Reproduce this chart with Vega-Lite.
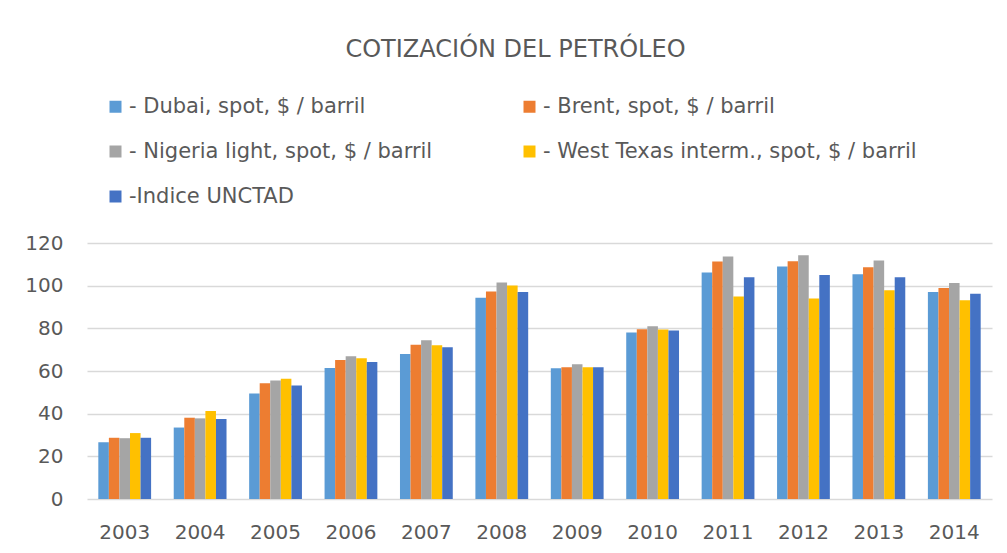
{
  "$schema": "https://vega.github.io/schema/vega-lite/v6.json",
  "width": 905,
  "height": 256,
  "autosize": {"type": "none"},
  "padding": {"left": 87, "top": 243, "right": 15, "bottom": 55},
  "background": "white",
  "config": {
    "view": {"stroke": null},
    "font": "DejaVu Sans"
  },
  "title": {
    "text": "COTIZACIÓN DEL PETRÓLEO",
    "anchor": "middle",
    "frame": "group",
    "dx": -24,
    "offset": 15,
    "baseline": "alphabetic",
    "fontSize": 24,
    "font": "DejaVu Sans",
    "fontWeight": "normal",
    "color": "#595959"
  },
  "data": {
    "values": [
      {"year": "2003", "serie": "- Dubai, spot, $ / barril", "value": 26.6},
      {"year": "2003", "serie": "- Brent, spot, $ / barril", "value": 28.7},
      {"year": "2003", "serie": "- Nigeria light, spot, $ / barril", "value": 28.5},
      {"year": "2003", "serie": "- West Texas interm., spot, $ / barril", "value": 30.9},
      {"year": "2003", "serie": "\u00a0-Indice UNCTAD", "value": 28.7},
      {"year": "2004", "serie": "- Dubai, spot, $ / barril", "value": 33.5},
      {"year": "2004", "serie": "- Brent, spot, $ / barril", "value": 38.1},
      {"year": "2004", "serie": "- Nigeria light, spot, $ / barril", "value": 37.8},
      {"year": "2004", "serie": "- West Texas interm., spot, $ / barril", "value": 41.3},
      {"year": "2004", "serie": "\u00a0-Indice UNCTAD", "value": 37.5},
      {"year": "2005", "serie": "- Dubai, spot, $ / barril", "value": 49.4},
      {"year": "2005", "serie": "- Brent, spot, $ / barril", "value": 54.3},
      {"year": "2005", "serie": "- Nigeria light, spot, $ / barril", "value": 55.5},
      {"year": "2005", "serie": "- West Texas interm., spot, $ / barril", "value": 56.4},
      {"year": "2005", "serie": "\u00a0-Indice UNCTAD", "value": 53.2},
      {"year": "2006", "serie": "- Dubai, spot, $ / barril", "value": 61.4},
      {"year": "2006", "serie": "- Brent, spot, $ / barril", "value": 65.1},
      {"year": "2006", "serie": "- Nigeria light, spot, $ / barril", "value": 66.9},
      {"year": "2006", "serie": "- West Texas interm., spot, $ / barril", "value": 66.0},
      {"year": "2006", "serie": "\u00a0-Indice UNCTAD", "value": 64.2},
      {"year": "2007", "serie": "- Dubai, spot, $ / barril", "value": 68.0},
      {"year": "2007", "serie": "- Brent, spot, $ / barril", "value": 72.3},
      {"year": "2007", "serie": "- Nigeria light, spot, $ / barril", "value": 74.4},
      {"year": "2007", "serie": "- West Texas interm., spot, $ / barril", "value": 72.1},
      {"year": "2007", "serie": "\u00a0-Indice UNCTAD", "value": 71.1},
      {"year": "2008", "serie": "- Dubai, spot, $ / barril", "value": 94.3},
      {"year": "2008", "serie": "- Brent, spot, $ / barril", "value": 97.3},
      {"year": "2008", "serie": "- Nigeria light, spot, $ / barril", "value": 101.5},
      {"year": "2008", "serie": "- West Texas interm., spot, $ / barril", "value": 100.1},
      {"year": "2008", "serie": "\u00a0-Indice UNCTAD", "value": 97.0},
      {"year": "2009", "serie": "- Dubai, spot, $ / barril", "value": 61.3},
      {"year": "2009", "serie": "- Brent, spot, $ / barril", "value": 61.8},
      {"year": "2009", "serie": "- Nigeria light, spot, $ / barril", "value": 63.2},
      {"year": "2009", "serie": "- West Texas interm., spot, $ / barril", "value": 61.8},
      {"year": "2009", "serie": "\u00a0-Indice UNCTAD", "value": 61.8},
      {"year": "2010", "serie": "- Dubai, spot, $ / barril", "value": 78.0},
      {"year": "2010", "serie": "- Brent, spot, $ / barril", "value": 79.6},
      {"year": "2010", "serie": "- Nigeria light, spot, $ / barril", "value": 81.0},
      {"year": "2010", "serie": "- West Texas interm., spot, $ / barril", "value": 79.4},
      {"year": "2010", "serie": "\u00a0-Indice UNCTAD", "value": 79.0},
      {"year": "2011", "serie": "- Dubai, spot, $ / barril", "value": 106.2},
      {"year": "2011", "serie": "- Brent, spot, $ / barril", "value": 111.3},
      {"year": "2011", "serie": "- Nigeria light, spot, $ / barril", "value": 113.7},
      {"year": "2011", "serie": "- West Texas interm., spot, $ / barril", "value": 94.9},
      {"year": "2011", "serie": "\u00a0-Indice UNCTAD", "value": 103.9},
      {"year": "2012", "serie": "- Dubai, spot, $ / barril", "value": 109.0},
      {"year": "2012", "serie": "- Brent, spot, $ / barril", "value": 111.5},
      {"year": "2012", "serie": "- Nigeria light, spot, $ / barril", "value": 114.2},
      {"year": "2012", "serie": "- West Texas interm., spot, $ / barril", "value": 94.0},
      {"year": "2012", "serie": "\u00a0-Indice UNCTAD", "value": 105.0},
      {"year": "2013", "serie": "- Dubai, spot, $ / barril", "value": 105.4},
      {"year": "2013", "serie": "- Brent, spot, $ / barril", "value": 108.6},
      {"year": "2013", "serie": "- Nigeria light, spot, $ / barril", "value": 111.8},
      {"year": "2013", "serie": "- West Texas interm., spot, $ / barril", "value": 97.9},
      {"year": "2013", "serie": "\u00a0-Indice UNCTAD", "value": 104.0},
      {"year": "2014", "serie": "- Dubai, spot, $ / barril", "value": 97.0},
      {"year": "2014", "serie": "- Brent, spot, $ / barril", "value": 98.9},
      {"year": "2014", "serie": "- Nigeria light, spot, $ / barril", "value": 101.2},
      {"year": "2014", "serie": "- West Texas interm., spot, $ / barril", "value": 93.2},
      {"year": "2014", "serie": "\u00a0-Indice UNCTAD", "value": 96.2}
    ]
  },
  "mark": {"type": "bar", "strokeWidth": 0},
  "encoding": {
    "x": {
      "field": "year",
      "type": "nominal",
      "scale": {"paddingInner": 0.3, "paddingOuter": 0.15},
      "axis": {
        "title": null,
        "labelAngle": 0,
        "ticks": false,
        "domain": false,
        "labelPadding": 23,
        "labelFontSize": 20,
        "labelColor": "#595959",
        "labelFont": "DejaVu Sans"
      }
    },
    "xOffset": {
      "field": "serie",
      "type": "nominal",
      "sort": ["- Dubai, spot, $ / barril", "- Brent, spot, $ / barril", "- Nigeria light, spot, $ / barril", "- West Texas interm., spot, $ / barril", "\u00a0-Indice UNCTAD"],
      "scale": {"paddingInner": 0, "paddingOuter": 0}
    },
    "y": {
      "field": "value",
      "type": "quantitative",
      "scale": {"domain": [0, 120], "nice": false},
      "axis": {
        "title": null,
        "values": [0, 20, 40, 60, 80, 100, 120],
        "ticks": false,
        "domain": false,
        "labelPadding": 24,
        "labelFontSize": 20,
        "labelColor": "#595959",
        "labelFont": "DejaVu Sans",
        "gridColor": "#D9D9D9",
        "gridWidth": 1.5
      }
    },
    "color": {
      "field": "serie",
      "type": "nominal",
      "scale": {
        "domain": ["- Dubai, spot, $ / barril", "- Brent, spot, $ / barril", "- Nigeria light, spot, $ / barril", "- West Texas interm., spot, $ / barril", "\u00a0-Indice UNCTAD"],
        "range": ["#5B9BD5", "#ED7D31", "#A5A5A5", "#FFC000", "#4472C4"]
      },
      "legend": {
        "title": null,
        "orient": "none",
        "direction": "horizontal",
        "legendX": 18,
        "legendY": -147,
        "columns": 2,
        "columnPadding": 86,
        "rowPadding": 23,
        "padding": 0,
        "symbolType": "square",
        "symbolSize": 144,
        "symbolStrokeWidth": 0,
        "labelOffset": 3,
        "labelFontSize": 21,
        "labelFont": "DejaVu Sans",
        "labelColor": "#595959",
        "labelLimit": 500
      }
    }
  }
}
